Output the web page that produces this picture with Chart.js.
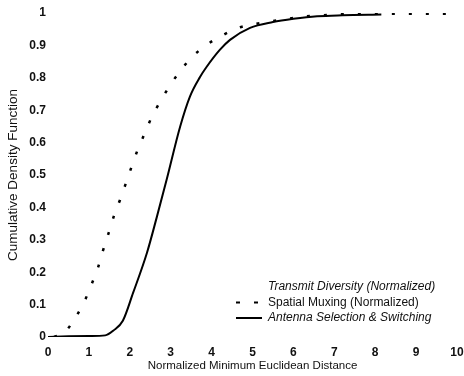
<!DOCTYPE html>
<html><head><meta charset="utf-8">
<script src="https://cdn.jsdelivr.net/npm/chart.js@4"></script>
<style>html,body{margin:0;padding:0;background:#fff}#wrap{width:464px;height:376px}</style>
</head><body><div id="wrap"><canvas id="c" width="464" height="376"></canvas></div>
<script>
const seriesNames = ['Transmit Diversity (Normalized)', 'Spatial Muxing (Normalized)', 'Antenna Selection & Switching'];
const xTickLabels = ['0','1','2','3','4','5','6','7','8','9','10'];
const yTickLabels = ['0','0.1','0.2','0.3','0.4','0.5','0.6','0.7','0.8','0.9','1'];

const muxX = [0.15,0.41,0.68,0.89,1.07,1.22,1.34,1.48,1.61,1.76,1.9,2.05,2.2,2.37,2.54,2.76,3.0,3.25,3.52,3.86,4.25,4.62,5.06,5.5,6.2,7.0,8.2,9.0,10];
const muxY = [0.0,0.015,0.062,0.11,0.164,0.213,0.265,0.32,0.373,0.423,0.473,0.528,0.58,0.63,0.68,0.73,0.78,0.824,0.864,0.9,0.93,0.953,0.966,0.975,0.988,0.995,0.998,0.998,0.998];

const antX = [0,0.5,1.0,1.4,1.6,1.83,2.08,2.42,2.66,2.9,3.23,3.47,3.72,3.88,4.2,4.45,4.94,5.5,6.0,6.58,7.2,8.15];
const antY = [0,0.002,0.003,0.005,0.02,0.05,0.136,0.26,0.37,0.485,0.649,0.742,0.803,0.834,0.886,0.917,0.954,0.972,0.982,0.99,0.993,0.995];

const toPts = (xs, ys) => xs.map((x, i) => ({x, y: ys[i]}));

const legendPlugin = {
  id: 'inLegend',
  afterDatasetsDraw(chart) {
    const ctx = chart.ctx;
    const styles = [
      {italic: true, line: null},
      {italic: false, line: 'dash'},
      {italic: true, line: 'solid'}
    ];
    const tx = 268, y0 = 287, dy = 15.5;
    ctx.save();
    ctx.fillStyle = '#111';
    ctx.textBaseline = 'middle';
    chart.data.datasets.forEach((ds, i) => {
      const s = styles[i];
      const y = y0 + i * dy;
      ctx.font = (s.italic ? 'italic ' : '') + '12px "Liberation Sans", Arial, sans-serif';
      ctx.fillText(ds.label, tx, y);
      if (s.line) {
        ctx.beginPath();
        ctx.strokeStyle = '#000';
        ctx.lineWidth = 2;
        if (s.line === 'dash') ctx.setLineDash([4, 14]); else ctx.setLineDash([]);
        ctx.moveTo(236, y); ctx.lineTo(262, y);
        ctx.stroke();
      }
    });
    ctx.restore();
  }
};

new Chart(document.getElementById('c'), {
  type: 'scatter',
  data: {
    datasets: [
      {label: seriesNames[0], data: [], showLine: true, borderColor: 'rgba(0,0,0,0)', borderWidth: 0, pointRadius: 0},
      {label: seriesNames[1], data: toPts(muxX, muxY), showLine: true, borderColor: '#000', borderWidth: 2.5,
       borderDash: [3, 14], pointRadius: 0, cubicInterpolationMode: 'monotone'},
      {label: seriesNames[2], data: toPts(antX, antY), showLine: true, borderColor: '#000', borderWidth: 2,
       pointRadius: 0, cubicInterpolationMode: 'monotone'}
    ]
  },
  options: {
    responsive: false,
    animation: false,
    layout: {padding: {top: 13, right: 7, left: 0, bottom: 0}},
    plugins: {legend: {display: false}, tooltip: {enabled: false}},
    scales: {
      x: {
        type: 'linear', min: 0, max: 10,
        afterFit(s) { s.height = 39; s.paddingRight = 0; s.paddingLeft = 0; },
        afterBuildTicks(s) { s.ticks = xTickLabels.map(v => ({value: parseFloat(v)})); },
        grid: {display: false, drawTicks: false},
        border: {display: false},
        ticks: {padding: 8, color: '#111', font: {size: 12, weight: 'bold', family: '"Liberation Sans", Arial'},
                callback: (v, i) => xTickLabels[i], maxRotation: 0},
        title: {display: true, text: 'Normalized Minimum Euclidean Distance', color: '#111',
                font: {size: 11.5, family: '"Liberation Sans", Arial'}, padding: {top: 0, bottom: 3}}
      },
      y: {
        type: 'linear', min: 0, max: 1,
        afterFit(s) { s.width = 48; s.paddingTop = 0; s.paddingBottom = 0; },
        afterBuildTicks(s) { s.ticks = yTickLabels.map(v => ({value: parseFloat(v)})); },
        grid: {display: false, drawTicks: false},
        border: {display: false},
        ticks: {padding: 2, color: '#111', font: {size: 12, weight: 'bold', family: '"Liberation Sans", Arial'},
                callback: (v, i) => yTickLabels[i]},
        title: {display: true, text: 'Cumulative Density Function', color: '#111',
                font: {size: 13.5, family: '"Liberation Sans", Arial'}, padding: {top: 5, bottom: 0}}
      }
    }
  },
  plugins: [legendPlugin]
});
</script></body></html>
